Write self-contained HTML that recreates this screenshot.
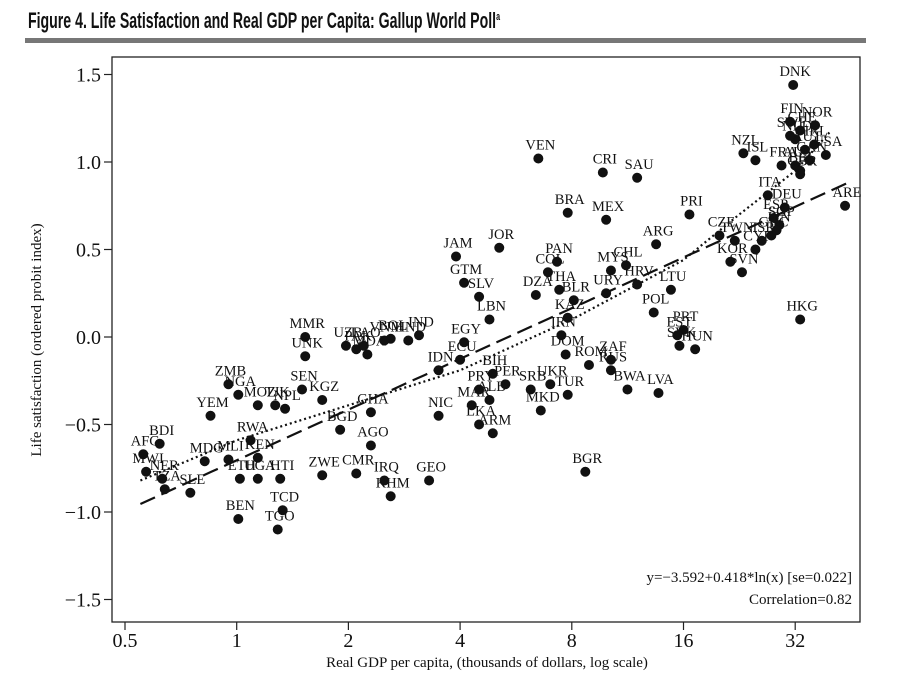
<!DOCTYPE html>
<html><head><meta charset="utf-8"><style>
body{margin:0;background:#fff;}
svg{display:block;}
</style></head><body>
<svg id="chart" width="913" height="685" xmlns="http://www.w3.org/2000/svg">
<text x="28" y="28" font-family="'Liberation Sans Narrow','Liberation Sans',sans-serif" font-weight="bold" font-size="22" fill="#111" textLength="472" lengthAdjust="spacingAndGlyphs">Figure 4.  Life Satisfaction and Real GDP per Capita: Gallup World Poll<tspan font-size="11" dy="-8">a</tspan></text>
<rect x="25" y="38" width="841" height="5" fill="#777"/>
<rect x="112" y="57" width="748" height="565" fill="none" stroke="#222" stroke-width="1.3"/>
<g id="axes"></g>
<g id="lines"></g>
<g id="points"></g>
<text x="852" y="582" text-anchor="end" font-family="'Liberation Serif',serif" font-size="15" fill="#111">y=−3.592+0.418*ln(x) [se=0.022]</text>
<text x="852" y="604" text-anchor="end" font-family="'Liberation Serif',serif" font-size="15" fill="#111">Correlation=0.82</text>
<text x="487" y="667" text-anchor="middle" font-family="'Liberation Serif',serif" font-size="15" fill="#111">Real GDP per capita, (thousands of dollars, log scale)</text>
<text transform="translate(41,340) rotate(-90)" text-anchor="middle" font-family="'Liberation Serif',serif" font-size="15" fill="#111">Life satisfaction (ordered probit index)</text>
</svg>
<script>
const xTicks=[0.5,1,2,4,8,16,32];
const xTickLabels=["0.5","1","2","4","8","16","32"];
const yTicks=[1.5,1.0,0.5,0.0,-0.5,-1.0,-1.5];
const yTickLabels=["1.5","1.0","0.5","0.0","−0.5","−1.0","−1.5"];
const codes=["DNK","FIN","NOR","CHE","NLD","SWE","AUT","IRL","USA","CAN","AUS","BEL","ISL","NZL","GBR","FRA","ITA","DEU","ESP","SGP","GRC","JPN","ISR","CYP","KOR","TWN","SVN","CZE","ARE","HKG","PRI","ARG","PRT","SVK","EST","HUN","POL","LTU","HRV","URY","MYS","CHL","MEX","BRA","CRI","SAU","VEN","LVA","BWA","RUS","ZAF","ROM","DOM","IRN","KAZ","BLR","THA","COL","PAN","DZA","MKD","TUR","BGR","ARM","LKA","PER","UKR","SRB","BIH","PRY","MAR","ALB","NIC","IDN","ECU","EGY","JOR","JAM","GTM","SLV","LBN","GEO","IRQ","KHM","CMR","ZWE","AGO","GHA","BGD","KGZ","SEN","NPL","TJK","MOZ","ZMB","NGA","YEM","RWA","MLI","KEN","MDG","ETH","UGA","HTI","TCD","BEN","TGO","BDI","AFG","MWI","NER","TZA","SLE","MMR","UNK","UZB","PAK","LAO","MDA","BOL","VNM","HND","IND"];
const gdp=[31.6,31,36.2,33,32,31,34,36,38.7,35,32,33,25,23.2,33,29.4,27,30,28,29,27.6,28.5,26,25,21.4,22,23,20,43.6,33,16.6,13.5,16,15.6,15.4,17.2,13.3,14.8,12,9.9,10.2,11.2,9.9,7.8,9.7,12.0,6.5,13.7,11.3,10.2,10.2,8.9,7.7,7.5,7.8,8.1,7.4,6.9,7.3,6.4,6.6,7.8,8.7,4.9,4.5,5.3,7.0,6.2,4.9,4.5,4.3,4.8,3.5,3.5,4.0,4.1,5.1,3.9,4.1,4.5,4.8,3.3,2.5,2.6,2.1,1.7,2.3,2.3,1.9,1.7,1.5,1.35,1.27,1.14,0.95,1.01,0.85,1.09,0.95,1.14,0.82,1.02,1.14,1.31,1.33,1.01,1.29,0.62,0.56,0.57,0.63,0.64,0.75,1.53,1.53,1.97,2.1,2.2,2.25,2.6,2.5,2.9,3.1];
const sat=[1.44,1.23,1.21,1.18,1.13,1.15,1.07,1.10,1.04,1.01,0.98,0.95,1.01,1.05,0.93,0.98,0.81,0.74,0.68,0.64,0.58,0.61,0.55,0.50,0.43,0.55,0.37,0.58,0.75,0.10,0.70,0.53,0.04,-0.05,0.01,-0.07,0.14,0.27,0.30,0.25,0.38,0.41,0.67,0.71,0.94,0.91,1.02,-0.32,-0.30,-0.19,-0.13,-0.16,-0.10,0.01,0.11,0.21,0.27,0.37,0.43,0.24,-0.42,-0.33,-0.77,-0.55,-0.50,-0.27,-0.27,-0.30,-0.21,-0.30,-0.39,-0.36,-0.45,-0.19,-0.13,-0.03,0.51,0.46,0.31,0.23,0.10,-0.82,-0.82,-0.91,-0.78,-0.79,-0.62,-0.43,-0.53,-0.36,-0.30,-0.41,-0.39,-0.39,-0.27,-0.33,-0.45,-0.59,-0.70,-0.69,-0.71,-0.81,-0.81,-0.81,-0.99,-1.04,-1.10,-0.61,-0.67,-0.77,-0.81,-0.87,-0.89,0.00,-0.11,-0.05,-0.07,-0.05,-0.10,-0.01,-0.02,-0.02,0.01];
const fitA=-3.592, fitB=0.418;
const fitRange=[0.55,45];
const smoothX=[0.55,1,2,4,8,16,22.6,32,40];
const smoothY=[-0.82,-0.59,-0.39,-0.19,0.10,0.44,0.70,0.95,1.18];

const NS="http://www.w3.org/2000/svg";
const xs=v=>125+111.7*(Math.log2(v)+1);
const ys=v=>337-175*v;
function mk(t,a,p){const e=document.createElementNS(NS,t);for(const k in a)e.setAttribute(k,a[k]);p.appendChild(e);return e;}
const axes=document.getElementById('axes');
xTicks.forEach((v,i)=>{
  const l=mk('line',{x1:xs(v),x2:xs(v),y1:622,y2:630,stroke:'#222','stroke-width':1.2},axes);
  
  
  const t=mk('text',{x:xs(v),y:647,'text-anchor':'middle','font-family':"'Liberation Serif',serif",'font-size':20,fill:'#111'},axes);
  t.textContent=xTickLabels[i];
  
  
});
yTicks.forEach((v,i)=>{
  const l=mk('line',{x1:104,x2:112,y1:ys(v),y2:ys(v),stroke:'#222','stroke-width':1.2},axes);
  
  
  const t=mk('text',{x:101,y:ys(v)+7,'text-anchor':'end','font-family':"'Liberation Serif',serif",'font-size':20,fill:'#111'},axes);
  t.textContent=yTickLabels[i];
  
  
});
const lines=document.getElementById('lines');
let d='';
for(let k=0;k<=40;k++){const g=fitRange[0]*Math.pow(fitRange[1]/fitRange[0],k/40);const y=fitA+fitB*Math.log(g*1000);d+=(k?'L':'M')+xs(g).toFixed(1)+','+ys(y).toFixed(1);}
const fl=mk('path',{d:d,fill:'none',stroke:'#111','stroke-width':2.2,'stroke-dasharray':'16,7'},lines);


let d2=smoothX.map((g,i)=>(i?'L':'M')+xs(g).toFixed(1)+','+ys(smoothY[i]).toFixed(1)).join('');
const sl=mk('path',{d:d2,fill:'none',stroke:'#111','stroke-width':2.2,'stroke-dasharray':'2,3'},lines);


const pts=document.getElementById('points');
codes.forEach((c,i)=>{
  const cx=xs(gdp[i]),cy=ys(sat[i]);
  const p=mk('circle',{cx:cx,cy:cy,r:5,fill:'#111'},pts);
  
  
  const t=mk('text',{x:cx+2,y:cy-9,'text-anchor':'middle','font-family':"'Liberation Serif',serif",'font-size':14.5,fill:'#111'},pts);
  t.textContent=c;
  
  
});
</script>
</body></html>
